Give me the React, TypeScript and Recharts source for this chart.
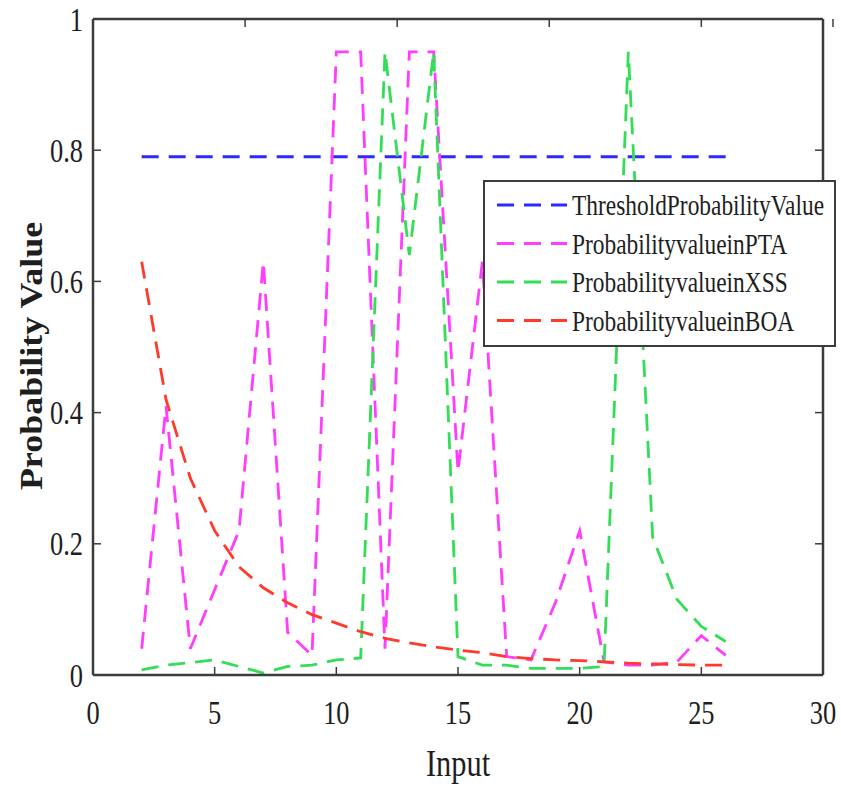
import React from 'react';
import { LineChart, Line, XAxis, YAxis, Legend } from 'recharts';

const inputs = [2, 3, 4, 5, 6, 7, 8, 9, 10, 11, 12, 13, 14, 15, 16, 17, 18, 19, 20, 21, 22, 23, 24, 25, 26];
const threshold = [0.79, 0.79, 0.79, 0.79, 0.79, 0.79, 0.79, 0.79, 0.79, 0.79, 0.79, 0.79, 0.79, 0.79, 0.79, 0.79, 0.79, 0.79, 0.79, 0.79, 0.79, 0.79, 0.79, 0.79, 0.79];
const pta = [0.04, 0.41, 0.04, 0.13, 0.22, 0.63, 0.065, 0.03, 0.95, 0.95, 0.04, 0.95, 0.95, 0.31, 0.63, 0.028, 0.023, 0.11, 0.22, 0.02, 0.015, 0.015, 0.02, 0.06, 0.03];
const xss = [0.008, 0.015, 0.019, 0.023, 0.013, 0.003, 0.013, 0.015, 0.023, 0.026, 0.95, 0.64, 0.95, 0.028, 0.015, 0.015, 0.01, 0.01, 0.01, 0.013, 0.95, 0.21, 0.115, 0.074, 0.051];
const boa = [0.63, 0.42, 0.3, 0.22, 0.165, 0.133, 0.11, 0.092, 0.079, 0.066, 0.056, 0.049, 0.043, 0.038, 0.034, 0.028, 0.025, 0.023, 0.022, 0.02, 0.018, 0.017, 0.016, 0.015, 0.015];

const xTicks = [0, 5, 10, 15, 20, 25, 30];
const yTicks = [0, 0.2, 0.4, 0.6, 0.8, 1];

const seriesNames = [
  'ThresholdProbabilityValue',
  'ProbabilityvalueinPTA',
  'ProbabilityvalueinXSS',
  'ProbabilityvalueinBOA',
];
const seriesKeys = ['threshold', 'pta', 'xss', 'boa'];
const seriesColors = ['#2a2aff', '#ff3cff', '#33dd55', '#ff3a2a'];

const data = inputs.map((x, i) => ({
  x,
  threshold: threshold[i],
  pta: pta[i],
  xss: xss[i],
  boa: boa[i],
}));

const FONT = '"Liberation Serif", "Times New Roman", serif';
const AXIS = '#3c3c3c';
const TEXT = '#1e1e1e';
const DASH = '17 10';
const SQUEEZE = 0.8;

const BottomTick = ({ x, y, payload }: any) => (
  <g>
    <line x1={x} y1={y} x2={x} y2={y - 8} stroke={AXIS} strokeWidth={1.5} />
    <text
      transform={`translate(${x},${y + 37}) scale(${SQUEEZE},1)`}
      textAnchor="middle"
      dominantBaseline="central"
      fontFamily={FONT}
      fontSize={33}
      fill={TEXT}
    >
      {payload.value}
    </text>
  </g>
);

const TopTick = ({ x, y }: any) => (
  <line x1={x} y1={y} x2={x} y2={y + 8} stroke={AXIS} strokeWidth={1.5} />
);

const LeftTick = ({ x, y, payload }: any) => (
  <g>
    <line x1={x} y1={y} x2={x + 8} y2={y} stroke={AXIS} strokeWidth={1.5} />
    <text
      transform={`translate(${x - 10},${y}) scale(${SQUEEZE},1)`}
      textAnchor="end"
      dominantBaseline="central"
      fontFamily={FONT}
      fontSize={33}
      fill={TEXT}
    >
      {String(payload.value)}
    </text>
  </g>
);

const RightTick = ({ x, y }: any) => (
  <line x1={x} y1={y} x2={x - 8} y2={y} stroke={AXIS} strokeWidth={1.5} />
);

const renderLegend = () => (
  <svg width={353} height={167} style={{ display: 'block' }}>
    <rect x={1} y={1} width={351} height={165} fill="#fff" stroke={AXIS} strokeWidth={2} />
    {seriesNames.map((name, i) => {
      const cy = 25 + i * 38.5;
      return (
        <g key={name}>
          <line
            x1={14}
            x2={84}
            y1={cy}
            y2={cy}
            stroke={seriesColors[i]}
            strokeWidth={2.8}
            strokeDasharray={DASH}
          />
          <text
            transform={`translate(89,${cy}) scale(0.78,1)`}
            dominantBaseline="central"
            fontFamily={FONT}
            fontSize={30}
            fill={TEXT}
          >
            {name}
          </text>
        </g>
      );
    })}
  </svg>
);

export default function App() {
  return (
    <div style={{ position: 'absolute', left: 0, top: 0, background: '#fff' }}>
      <LineChart width={841} height={787} data={data} margin={{ top: 0, right: 0, bottom: 0, left: 0 }}>
        <XAxis
          xAxisId="bottom"
          dataKey="x"
          type="number"
          domain={[0, 30]}
          ticks={xTicks}
          height={112}
          tickSize={0}
          tickMargin={0}
          tick={<BottomTick />}
          axisLine={{ stroke: AXIS, strokeWidth: 2.5 }}
          tickLine={false}
          label={{
            value: 'Input',
            content: ({ viewBox }: any) => (
              <text
                transform={`translate(${viewBox.x + viewBox.width / 2},${viewBox.y + 88}) scale(${SQUEEZE},1)`}
                textAnchor="middle"
                dominantBaseline="central"
                fontFamily={FONT}
                fontSize={38}
                fill={TEXT}
              >
                Input
              </text>
            ),
          }}
        />
        <XAxis
          xAxisId="top"
          orientation="top"
          type="number"
          domain={[0, 30]}
          ticks={xTicks}
          height={19}
          tickSize={0}
          tickMargin={0}
          tick={<TopTick />}
          axisLine={{ stroke: AXIS, strokeWidth: 2.5 }}
          tickLine={false}
          allowDataOverflow
        />
        <YAxis
          yAxisId="left"
          type="number"
          domain={[0, 1]}
          ticks={yTicks}
          width={93}
          tickSize={0}
          tickMargin={0}
          tick={<LeftTick />}
          axisLine={{ stroke: AXIS, strokeWidth: 2.5 }}
          tickLine={false}
          label={{
            value: 'Probability Value',
            content: ({ viewBox }: any) => (
              <text
                transform={`translate(31,${viewBox.y + viewBox.height / 2 + 9}) scale(0.85,1) rotate(-90)`}
                textAnchor="middle"
                dominantBaseline="central"
                fontFamily={FONT}
                fontWeight="bold"
                fontSize={36}
                fill={TEXT}
              >
                Probability Value
              </text>
            ),
          }}
        />
        <YAxis
          yAxisId="right"
          orientation="right"
          type="number"
          domain={[0, 1]}
          ticks={yTicks}
          width={18}
          tickSize={0}
          tickMargin={0}
          tick={<RightTick />}
          axisLine={{ stroke: AXIS, strokeWidth: 2.5 }}
          tickLine={false}
          allowDataOverflow
        />
        <Legend
          layout="vertical"
          align="center"
          verticalAlign="middle"
          content={renderLegend}
          wrapperStyle={{ position: 'absolute', left: 483, top: 180, width: 353, height: 167 }}
        />
        {seriesKeys.map((key, i) => (
          <Line
            key={key}
            xAxisId="bottom"
            yAxisId="left"
            type="linear"
            dataKey={key}
            name={seriesNames[i]}
            stroke={seriesColors[i]}
            strokeWidth={2.8}
            strokeDasharray={DASH}
            dot={false}
            activeDot={false}
            isAnimationActive={false}
          />
        ))}
      </LineChart>
    </div>
  );
}
